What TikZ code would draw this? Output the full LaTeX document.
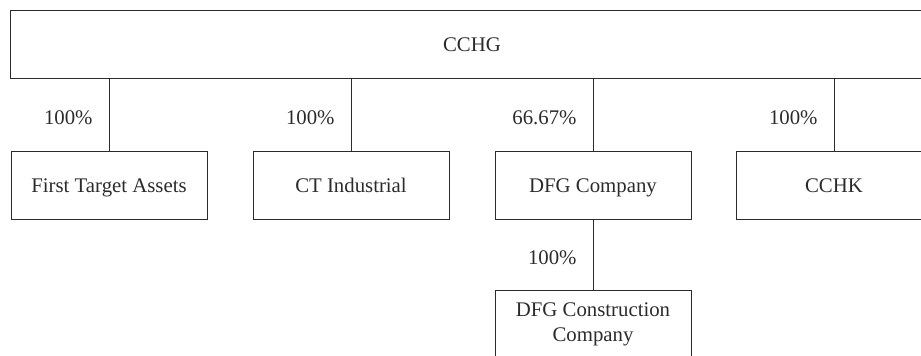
\documentclass[tikz,border=0pt]{standalone}
\usepackage{fontspec}
\setmainfont{Liberation Serif}
\usepackage{tikz}
\usetikzlibrary{positioning}
\definecolor{inkgray}{HTML}{2B2B2B}

\begin{document}
\begin{tikzpicture}[x=1pt,y=-1pt,
    every node/.style={font=\fontsize{20.8}{25}\selectfont,text=inkgray},
    entity/.style={draw=inkgray,line width=0.9pt,minimum width=196pt,
                   minimum height=68pt,inner sep=0pt,align=center},
    oneline/.style={entity,text height=14pt,text depth=0pt},
    share/.style={left=16pt,yshift=-2.5pt,inner sep=0pt,
                  text height=14pt,text depth=0pt}]
  \clip (0,0) rectangle (921,356);

  % parent
  \node[oneline,minimum width=924pt] (cchg) at (472,44) {CCHG};

  % subsidiaries
  \node[oneline] (fta)  at (109,185) {First Target Assets};
  \node[oneline] (cti)  at (351,185) {CT Industrial};
  \node[oneline] (dfg)  at (593,185) {DFG Company};
  \node[oneline] (cchk) at (834,185) {CCHK};
  \node[entity]  (dfgc) at (593,324) {DFG Construction\\Company};

  % holdings
  \draw[inkgray,line width=0.9pt] (cchg.south -| fta.north) -- node[share] {100\%} (fta.north);
  \draw[inkgray,line width=0.9pt] (cchg.south -| cti.north) -- node[share] {100\%} (cti.north);
  \draw[inkgray,line width=0.9pt] (cchg.south -| dfg.north) -- node[share] {66.67\%} (dfg.north);
  \draw[inkgray,line width=0.9pt] (cchg.south -| cchk.north) -- node[share] {100\%} (cchk.north);
  \draw[inkgray,line width=0.9pt] (dfg.south) -- node[share] {100\%} (dfgc.north);
\end{tikzpicture}
\end{document}
